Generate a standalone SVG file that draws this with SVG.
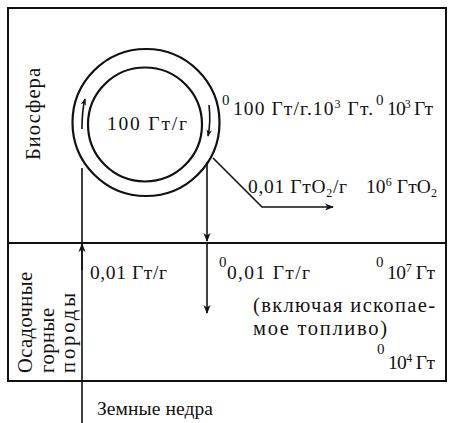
<svg xmlns="http://www.w3.org/2000/svg" width="454" height="423" viewBox="0 0 454 423" font-family="Liberation Serif, Times New Roman, serif">
<defs>
<style>
.ln{fill:none;stroke:#111;stroke-width:1.6}
.bx{fill:none;stroke:#111;stroke-width:2}
text{fill:#111;font-size:19.5px}
.sup{font-size:12px}
.z{font-size:15px}
.big{font-size:20.5px}
</style>
<marker id="ah" viewBox="0 0 10 10" refX="9" refY="5" markerWidth="9" markerHeight="9" markerUnits="userSpaceOnUse" orient="auto">
<path d="M0,1 L10,5 L0,9 L3,5 Z" fill="#111"/>
</marker>
<marker id="ahs" viewBox="0 0 10 10" refX="9" refY="5" markerWidth="7" markerHeight="7" markerUnits="userSpaceOnUse" orient="auto">
<path d="M0,1 L10,5 L0,9 L3,5 Z" fill="#111"/>
</marker>
</defs>
<rect fill="#fff" width="454" height="423"/>
<g id="biosphere">
<rect class="bx" x="8" y="8" width="438" height="235"/>
<text class="big" transform="translate(40,160) rotate(-90)" textLength="92" lengthAdjust="spacing">Биосфера</text>
</g>
<g id="sediments">
<rect class="bx" x="8" y="243" width="438" height="138"/>
<text class="big" transform="translate(32,373) rotate(-90)" textLength="101" lengthAdjust="spacing">Осадочные</text>
<text class="big" transform="translate(54,373) rotate(-90)" textLength="65" lengthAdjust="spacing">горные</text>
<text class="big" transform="translate(75,373) rotate(-90)" textLength="80" lengthAdjust="spacing">породы</text>
</g>
<g id="cycle">
<circle class="ln" cx="146" cy="122.5" r="73.5" style="stroke-width:2.2"/>
<circle class="ln" cx="145" cy="124.5" r="57" style="stroke-width:2.2"/>
<text x="107" y="130" textLength="80" lengthAdjust="spacing">100 Гт/г</text>
</g>
<g id="connectors">
<path class="ln" d="M82,129 Q82,110 85,99" marker-end="url(#ahs)"/>
<path class="ln" d="M209,105 Q211,122 208,136" marker-end="url(#ahs)"/>
<line class="ln" x1="82" y1="423" x2="82" y2="168"/>
<line class="ln" x1="82" y1="270" x2="82" y2="244" marker-end="url(#ah)"/>
<line class="ln" x1="207" y1="162" x2="207" y2="241" marker-end="url(#ah)"/>
<line class="ln" x1="207" y1="243" x2="207" y2="313" marker-end="url(#ah)"/>
<polyline class="ln" points="213,158 262,207 333,207" marker-end="url(#ah)"/>
</g>
<g id="labels">
<text class="z" x="222" y="105">0</text>
<text x="233" y="115" textLength="140" lengthAdjust="spacing">100 Гт/г.10<tspan class="sup" dy="-7">3</tspan><tspan dy="7"> Гт.</tspan></text>
<text class="z" x="376" y="105">0</text>
<text x="387" y="115" textLength="46" lengthAdjust="spacing">10<tspan class="sup" dy="-7">3</tspan><tspan dy="7"> Гт</tspan></text>
<text x="248" y="193" textLength="99" lengthAdjust="spacing">0,01 ГтО<tspan class="sup" dy="4">2</tspan><tspan dy="-4">/г</tspan></text>
<text x="366" y="193" textLength="71" lengthAdjust="spacing">10<tspan class="sup" dy="-7">6</tspan><tspan dy="7"> ГтО</tspan><tspan class="sup" dy="4">2</tspan></text>
<text x="90" y="279" textLength="77" lengthAdjust="spacing">0,01 Гт/г</text>
<text class="z" x="219" y="267">0</text>
<text x="227" y="279" textLength="83" lengthAdjust="spacing">0,01 Гт/г</text>
<text class="z" x="376" y="267">0</text>
<text x="387" y="279" textLength="48" lengthAdjust="spacing">10<tspan class="sup" dy="-7">7</tspan><tspan dy="7"> Гт</tspan></text>
<text class="big" x="253" y="312" textLength="182" lengthAdjust="spacing">(включая ископае-</text>
<text class="big" x="253" y="335" textLength="134" lengthAdjust="spacing">мое топливо)</text>
<text class="z" x="377" y="354">0</text>
<text x="388" y="369" textLength="47" lengthAdjust="spacing">10<tspan class="sup" dy="-7">4</tspan><tspan dy="7"> Гт</tspan></text>
<text x="97" y="415" textLength="116" lengthAdjust="spacing">Земные недра</text>
</g>
</svg>
